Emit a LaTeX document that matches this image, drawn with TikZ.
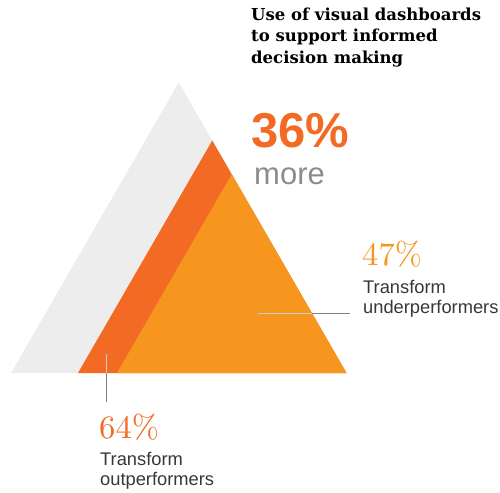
\documentclass[tikz,border=0pt]{standalone}
\usepackage{fontspec}
\newfontfamily\labelfont{Liberation Sans}
\newfontfamily\titlefont{DejaVu Serif}
\newfontfamily\pctfont{lmroman10-regular}[Extension=.otf]
\usetikzlibrary{positioning}
\definecolor{tgray}{RGB}{237,237,237}
\definecolor{tdark}{RGB}{242,106,36}
\definecolor{tlight}{RGB}{247,150,31}
\definecolor{leadgray}{RGB}{128,128,128}
\definecolor{moregray}{RGB}{140,140,140}
\definecolor{txtdark}{RGB}{55,55,55}
\tikzset{
  pct/.style={anchor=base west, inner sep=0pt, font=\pctfont\fontsize{32.7}{36}\selectfont},
  desc/.style={anchor=north west, inner sep=0pt, align=left, text=txtdark,
    font=\labelfont\fontsize{18.3}{20}\selectfont},
  leader/.style={draw=leadgray, line width=0.9pt},
  leaderin/.style={draw=white, opacity=0.6, line width=0.9pt},
}

\begin{document}
\begin{tikzpicture}[x=1pt,y=-1pt]
\useasboundingbox (0,0) rectangle (500,492);
% Triangle corners (all share the right corner)
\coordinate (R) at (346.5,373);
\coordinate (gL) at (11,373);
\coordinate (gT) at (178.75,82.5);
\coordinate (dL) at (78,373);
\coordinate (dT) at (212.25,140.5);
\coordinate (lL) at (117,373);
\coordinate (lT) at (231.75,174.25);

% Triangles
\fill[tgray] (gL) -- (gT) -- (R) -- cycle;
\fill[tdark] (dL) -- (dT) -- (R) -- cycle;
\fill[tlight] (lL) -- (lT) -- (R) -- cycle;

% Title and headline
\node[anchor=north west, inner sep=0pt, align=left,
  font=\titlefont\bfseries\fontsize{16.5}{21.4}\selectfont] (title) at (251,7.5) {Use of visual dashboards\\to support informed\\decision making};
\node[anchor=base west, inner sep=0pt, text=tdark,
  font=\labelfont\bfseries\fontsize{49}{52}\selectfont] (pct36) at (251,147) {36\%};
\node[anchor=base west, inner sep=0pt, text=moregray,
  font=\labelfont\fontsize{31}{34}\selectfont] (more) at (254,184) {more};

% Underperformers
\node[pct, text=tlight] (pct47) at (362,265) {47\%};
\node[desc] (lblunder) at (363,280) {Transform\\underperformers};
\coordinate (underIn) at (258,313);
\coordinate (underOut) at (349.5,313);
\draw[leader] (underIn) -- (underOut);
\begin{scope}
\clip (lL) -- (lT) -- (R) -- cycle;
\draw[leaderin] (underIn) -- (underOut);
\end{scope}

% Outperformers
\node[pct, text=tdark] (pct64) at (99,438.3) {64\%};
\node[desc] (lblout) at (100,451.6) {Transform\\outperformers};
\coordinate (outIn) at (106,354);
\coordinate (outOut) at (106,402);
\draw[leader] (outIn) -- (outOut);
\begin{scope}
\clip (dL) -- (dT) -- (R) -- cycle;
\draw[leaderin] (outIn) -- (outOut);
\end{scope}
\end{tikzpicture}
\end{document}
